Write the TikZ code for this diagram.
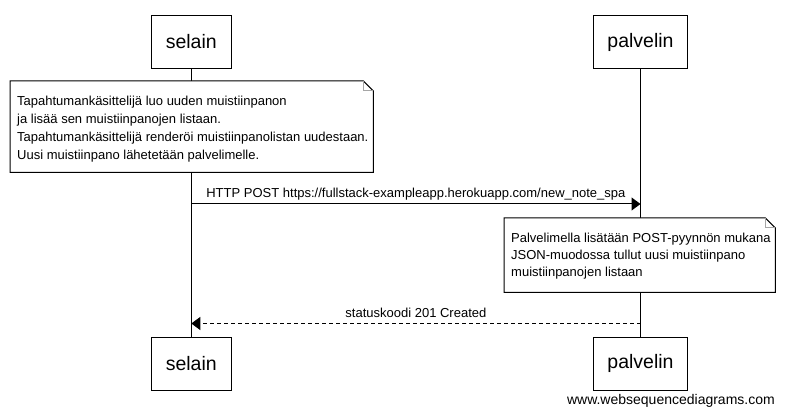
\documentclass[tikz,border=0pt]{standalone}
\usepackage{fontspec}
\setmainfont{Liberation Sans}
\usetikzlibrary{arrows.meta}
\tikzset{
  actorbox/.style={draw=black, line width=1pt, fill=white, minimum height=52.7pt, inner sep=0pt, font=\fontsize{19.5}{22}\selectfont},
  lifeline/.style={draw=black, line width=1pt},
  notearea/.style={draw=none, inner sep=0pt, anchor=north west},
  noteshape/.style={draw=black, fill=white, line width=1pt},
  notefold/.style={draw=gray!70, line width=1pt},
  notetext/.style={inner sep=0pt, anchor=base west, align=left},
  msg/.style={draw=black, line width=1pt, -{Triangle[length=9pt,width=13pt]}},
  reply/.style={msg, dash pattern=on 4pt off 3pt},
  msglabel/.style={inner sep=0pt, anchor=base, yshift=6.5pt, font=\fontsize{13}{15}\selectfont},
}
\begin{document}
\begin{tikzpicture}[x=1pt, y=-1pt]
\useasboundingbox (0,0) rectangle (785,414);
\fill[white] (0,0) rectangle (785,414);
% actors
\node[actorbox, minimum width=80pt] (selT) at (191.3,42) {selain};
\node[actorbox, minimum width=94.4pt] (palT) at (640.5,42) {palvelin};
\node[actorbox, minimum width=80pt] (selB) at (191.3,363.7) {selain};
\node[actorbox, minimum width=94.4pt] (palB) at (640.5,363.7) {palvelin};
% lifelines
\draw[lifeline] (selT.south) -- (selB.north);
\draw[lifeline] (palT.south) -- (palB.north);
% note 1
\node[notearea, minimum width=363pt, minimum height=91pt] (n1) at (10,81) {};
\draw[noteshape] (n1.north west) -- ([xshift=-10pt]n1.north east) -- ([yshift=-10pt]n1.north east) -- (n1.south east) -- (n1.south west) -- cycle;
\draw[notefold] ([xshift=-10pt]n1.north east) -- ([xshift=-10pt,yshift=-10pt]n1.north east) -- ([yshift=-10pt]n1.north east);
\node[notetext, font=\fontsize{13}{18.1}\selectfont] (t1) at (17,159.6) {Tapahtumankäsittelijä luo uuden muistiinpanon\\ja lisää sen muistiinpanojen listaan.\\Tapahtumankäsittelijä renderöi muistiinpanolistan uudestaan.\\Uusi muistiinpano lähetetään palvelimelle.};
% message 1
\coordinate (r1) at (0,204);
\draw[msg] (selT |- r1) -- (palT |- r1) node[msglabel, midway] (l1) {HTTP POST https://fullstack-exampleapp.herokuapp.com/new\_note\_spa};
% note 2
\node[notearea, minimum width=271pt, minimum height=74pt] (n2) at (504,218) {};
\draw[noteshape] (n2.north west) -- ([xshift=-10pt]n2.north east) -- ([yshift=-10pt]n2.north east) -- (n2.south east) -- (n2.south west) -- cycle;
\draw[notefold] ([xshift=-10pt]n2.north east) -- ([xshift=-10pt,yshift=-10pt]n2.north east) -- ([yshift=-10pt]n2.north east);
\node[notetext, font=\fontsize{13}{17.2}\selectfont] (t2) at (511,276.7) {Palvelimella lisätään POST-pyynnön mukana\\JSON-muodossa tullut uusi muistiinpano\\muistiinpanojen listaan};
% message 2
\coordinate (r2) at (0,323.5);
\draw[reply] (palT |- r2) -- (selT |- r2) node[msglabel, midway] (l2) {statuskoodi 201 Created};
% watermark
\node[inner sep=0pt, anchor=base east, font=\fontsize{14}{16}\selectfont] (wm) at (775,404.5) {www.websequencediagrams.com};
\end{tikzpicture}
\end{document}
